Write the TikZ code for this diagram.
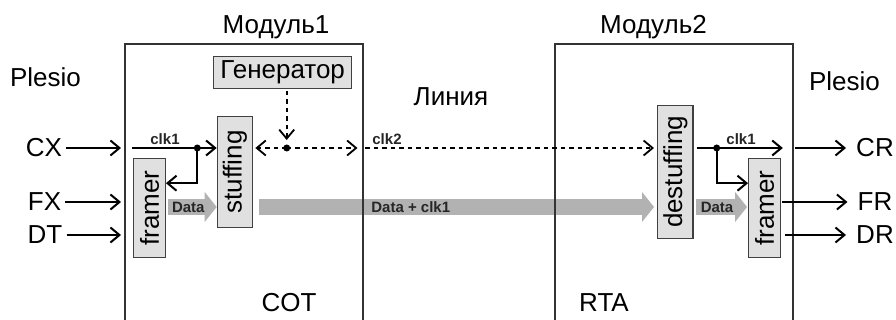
\documentclass[tikz,border=0pt]{standalone}
\usepackage{fontspec}
\setmainfont{Liberation Sans}
\usetikzlibrary{arrows.meta}

\begin{document}
\begin{tikzpicture}[x=1pt, y=-1pt]

\tikzset{block/.style = {shape=rectangle, draw=black!75, fill=black!12, line width=1.3pt, inner sep=0pt}}
\tikzset{modul/.style = {shape=rectangle, draw=black!80, line width=1.8pt, anchor=north west, minimum width=237.7pt, minimum height=300pt}}
\tikzset{big/.style = {font=\fontsize{26}{30}\selectfont, inner sep=2pt}}
\tikzset{small/.style = {font=\fontsize{15}{18}\selectfont\bfseries, text=black!85, inner sep=1pt}}
\tikzset{sig/.style = {line width=2pt, -{Straight Barb[length=9pt 0 0, width=15pt 0 0]}}}
\tikzset{dsig/.style = {sig, line width=1.8pt, dash pattern=on 4.5pt off 4pt}}
\tikzset{dot/.style = {shape=circle, fill=black, inner sep=0pt, minimum size=7pt}}
\tikzset{fat/.style = {line width=16pt, draw=black!30, -{Triangle[length=12pt 0 0, width=30pt 0 0, line width=0pt]}}}

\useasboundingbox (0,0) rectangle (896,320);

% labels
\node[big, anchor=base] (m1lbl) at (276,34) {Модуль1};
\node[big, anchor=base] (m2lbl) at (653.5,33.5) {Модуль2};
\node[big] (plesA) at (45.5,77) {Plesio};
\node[big] (plesB) at (844.5,81) {Plesio};
\node[big, anchor=base] (line) at (451,106) {Линия};
\node[big, anchor=base] (cot) at (289,311) {COT};
\node[big, anchor=base] (rta) at (604,311) {RTA};

% blocks
\node[block, big, inner sep=0pt, minimum width=138pt, minimum height=31.6pt] (gen) at (282.7,72.5) {Генератор};
\node[block, big, inner sep=0pt, minimum width=35.4pt, minimum height=110.6pt] (stuff) at (235,172) {\rotatebox{90}{stuffing}};
\node[block, big, inner sep=0pt, minimum width=31.6pt, minimum height=99pt] (fr1) at (149.5,208.2) {\rotatebox{90}{framer}};
\node[block, big, inner sep=0pt, minimum width=35.3pt, minimum height=133pt] (destuff) at (675.3,171.8) {\rotatebox{90}{destuffing}};
\node[block, big, inner sep=0pt, minimum width=31.6pt, minimum height=99pt] (fr2) at (764.5,208.2) {\rotatebox{90}{framer}};

% signals
\node[big] (CX) at (44,148) {CX};
\node[big] (FX) at (44.5,202) {FX};
\node[big] (DT) at (45,235) {DT};
\node[big] (CR) at (875,148) {CR};
\node[big] (FR) at (875,202) {FR};
\node[big] (DR) at (875,235) {DR};

\node[dot] (d1) at (197.3,148) {};
\node[dot] (d2) at (286.7,148) {};
\node[dot] (d3) at (716.7,148) {};

\node[small] (clkA) at (165,139) {clk1};
\node[small] (clkB) at (387,139) {clk2};
\node[small] (clkC) at (741,139) {clk1};

% data
\draw[fat, shorten <=2pt] (fr1.east |- 0,207) -- (stuff.west |- 0,207) node[small, pos=0.44] {Data};
\draw[fat, shorten <=6pt, shorten >=3pt] (stuff.east |- 0,207) -- (destuff.west |- 0,207) node[small, pos=0.39] {Data + clk1};
\draw[fat, shorten <=2pt, shorten >=1pt] (destuff.east |- 0,207) -- (fr2.west |- 0,207) node[small, pos=0.43] {Data};

% modules
\node[modul] (mod1) at (124,43) {};
\node[modul] (mod2) at (554.3,43) {};

%edges
\draw[sig, shorten <=2pt, shorten >=3pt] (CX) -- (CX -| mod1.west);
\draw[sig, shorten <=2pt, shorten >=3pt] (FX) -- (FX -| mod1.west);
\draw[sig, shorten <=2pt, shorten >=3pt] (DT) -- (DT -| mod1.west);
\draw[sig, shorten <=8pt] (CX -| mod1.west) -- (CX -| stuff.west);
\draw[sig] (d1.center) |- ([yshift=25pt]fr1.east);
\draw[dsig, shorten >=2pt] (d2.center) -- (d2 -| stuff.east);
\draw[dsig, shorten >=6pt] (d2.center) -- (d2 -| mod1.east);
\draw[dsig, shorten <=1.5pt, shorten >=3pt] (d2 -| mod1.east) -- (d2 -| destuff.west);
\draw[dsig, shorten <=2pt, shorten >=8pt] (gen.south -| d2) -- (d2.center);
\draw[sig, shorten <=3pt, shorten >=11pt] (d3 -| destuff.east) -- (d3 -| mod2.east);
\draw[sig] (d3.center) |- ([yshift=25pt]fr2.west);
\draw[sig, shorten <=1pt, shorten >=8pt] (CR -| mod2.east) -- (CR.west);
\draw[sig, shorten <=1.5pt, shorten >=8pt] (FR -| fr2.east) -- (FR.west);
\draw[sig, shorten <=4pt, shorten >=8pt] (DR -| fr2.east) -- (DR.west);

\end{tikzpicture}
\end{document}
